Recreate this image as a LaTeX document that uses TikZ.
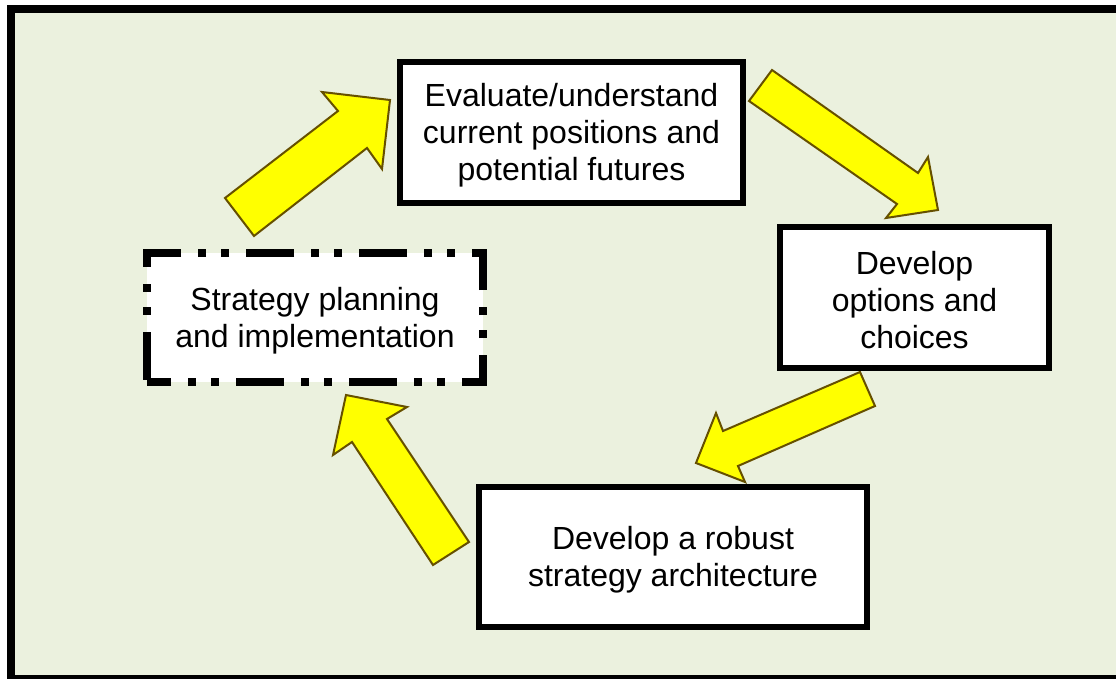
\documentclass[tikz,border=0pt]{standalone}
\usepackage{fontspec}
\setmainfont{Liberation Sans}
\definecolor{bg}{RGB}{235,241,222}
\definecolor{arrowfill}{RGB}{255,255,0}
\definecolor{arrowedge}{RGB}{102,80,0}
\begin{document}
\begin{tikzpicture}[x=1pt,y=-1pt,
  box/.style={draw=black, line width=6pt, fill=white, inner sep=0pt},
  dashbox/.style={box, line width=7.5pt,
    dash pattern=on 48pt off 17pt on 8pt off 15pt on 8pt off 17pt, dash phase=24pt},
  boxtext/.style={align=center, inner sep=0pt, yshift=-3pt,
    font=\fontsize{32}{37}\selectfont},
  blockarrow/.style={fill=arrowfill, draw=arrowedge, line width=2pt, line join=miter}]
\useasboundingbox (0,0) rectangle (1116,679);
\clip (0,0) rectangle (1116,679);
\fill[white] (0,0) rectangle (1116,679);
% framed background panel
\draw[line width=8pt, fill=bg] (11,9) rectangle (1124,679);

% block arrows of the cycle
\draw[blockarrow] (225,198) -- (338,111) -- (322,92) -- (390,100) -- (382,169)
  -- (367,148) -- (254,236) -- cycle;
\draw[blockarrow] (772,70) -- (918,173) -- (928,157) -- (938,210) -- (886,218)
  -- (897,204) -- (749,101) -- cycle;
\draw[blockarrow] (860,372) -- (875,406) -- (738,466) -- (745,482) -- (696,463)
  -- (716,413) -- (723,431) -- cycle;
\draw[blockarrow] (469,542) -- (387,419) -- (407,407) -- (346,395) -- (333,455)
  -- (352,442) -- (433,565) -- cycle;

% stages
\node[box, minimum width=343pt, minimum height=141pt] (evaluate) at (571.5,132.5) {};
\node[boxtext] (evaluatetext) at (evaluate.center)
  {Evaluate/understand\\current positions and\\potential futures};
\node[box, minimum width=269pt, minimum height=141pt] (options) at (914.5,297.5) {};
\node[boxtext] (optionstext) at (options.center)
  {Develop\\options and\\choices};
\node[box, minimum width=388pt, minimum height=140pt] (architecture) at (673,557) {};
\node[boxtext] (architecturetext) at (architecture.center)
  {Develop a robust\\strategy architecture};
\node[dashbox, minimum width=336pt, minimum height=129pt] (planning) at (315,317.5) {};
\node[boxtext] (planningtext) at (planning.center)
  {Strategy planning\\and implementation};
\end{tikzpicture}
\end{document}
